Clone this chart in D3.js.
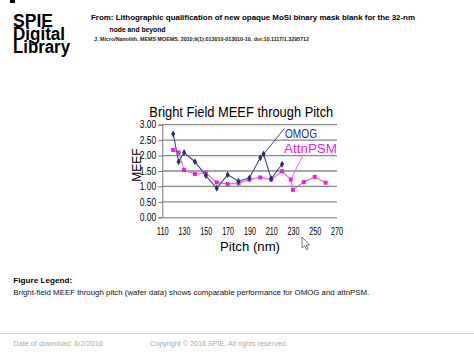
<!DOCTYPE html>
<html><head><meta charset="utf-8">
<script src="https://cdnjs.cloudflare.com/ajax/libs/d3/7.8.5/d3.min.js"></script>
<style>body{margin:0;background:#fff}svg{display:block;font-family:"Liberation Sans",Arial,sans-serif}</style>
</head><body>
<script>
// ---- data ----
const pitchOMOG = [120,125,130,140,150,160,170,180,190,200,203,210,220];
const meefOMOG  = [2.70,1.80,2.10,1.80,1.35,0.94,1.38,1.17,1.27,1.93,2.05,1.25,1.72];
const pitchAttn = [120,125,130,140,150,160,170,180,190,200,210,220,228,230,240,250,260];
const meefAttn  = [2.18,2.10,1.53,1.40,1.44,1.13,1.08,1.10,1.22,1.29,1.22,1.49,1.22,0.89,1.14,1.31,1.12];
const xTicks = [110,130,150,170,190,210,230,250,270];
const yTicks = [0,0.5,1,1.5,2,2.5,3];
const seriesNames = ["OMOG","AttnPSM"];

const W=474,H=355;
const svg=d3.select("body").append("svg").attr("width",W).attr("height",H);

function txt(x,y,s,o){
  const t=svg.append("text").attr("x",x).attr("y",y).text(s)
    .attr("font-size",o.size).attr("fill",o.fill||"#000");
  if(o.bold) t.attr("font-weight","bold");
  if(o.anchor) t.attr("text-anchor",o.anchor);
  if(o.len) t.attr("textLength",o.len).attr("lengthAdjust","spacingAndGlyphs");
  return t;
}

// ---- header ----
svg.append("rect").attr("x",10).attr("y",0).attr("width",5).attr("height",3).attr("fill","#000");
txt(13,26.5,"SPIE",{size:18,bold:true,len:40});
txt(13,39.6,"Digital",{size:18,bold:true,len:52});
txt(13,52.6,"Library",{size:18,bold:true,len:57});
txt(91,19.5,"From: Lithographic qualification of new opaque MoSi binary mask blank for the 32-nm",{size:8,bold:true,len:324});
txt(109.5,31.8,"node and beyond",{size:8,bold:true,len:56});
txt(94,40.5,"J. Micro/Nanolith. MEMS MOEMS. 2010;9(1):013010-013010-10. doi:10.1117/1.3295712",{size:5,bold:true,len:215,fill:"#222"});

// ---- chart ----
const x=d3.scaleLinear().domain([110,270]).range([162.3,336.5]);
const y=d3.scaleLinear().domain([0,3]).range([217.3,124.7]);

// gridlines
svg.append("g").selectAll("line").data(yTicks.filter(d=>d>0)).join("line")
  .attr("x1",x(110)).attr("x2",x(270)+0.5).attr("y1",d=>y(d)).attr("y2",d=>y(d))
  .attr("stroke","#8a8a8a").attr("stroke-width",1.3);

// y axis
const ya=svg.append("g").attr("transform",`translate(${x(110)},0)`)
  .call(d3.axisLeft(y).tickValues(yTicks).tickFormat(d3.format(".2f")).tickSize(4).tickPadding(2));
ya.select(".domain").attr("stroke","#777");
ya.selectAll(".tick line").attr("stroke","#777");
ya.selectAll(".tick text").attr("font-size",10).attr("fill","#000")
  .attr("font-family","Liberation Sans, Arial, sans-serif")
  .attr("textLength",16.5).attr("lengthAdjust","spacingAndGlyphs");

// x axis
const xa=svg.append("g").attr("transform",`translate(0,${y(0)})`)
  .call(d3.axisBottom(x).tickValues(xTicks).tickFormat(d3.format("d")).tickSize(0).tickPadding(11));
xa.select(".domain").attr("stroke","#777");
xa.selectAll(".tick text").attr("font-size",10).attr("fill","#000")
  .attr("font-family","Liberation Sans, Arial, sans-serif")
  .attr("textLength",12).attr("lengthAdjust","spacingAndGlyphs");

// titles
txt(149.3,116.7,"Bright Field MEEF through Pitch",{size:14,len:184});
txt(250,250.5,"Pitch (nm)",{size:13.5,anchor:"middle",len:60});
svg.append("text").attr("transform","translate(140.7,165) rotate(-90)")
  .attr("text-anchor","middle").attr("font-size",13).text("MEEF")
  .attr("textLength",33.5).attr("lengthAdjust","spacingAndGlyphs");

const navy="#24306e", navyLine="#3a4884", mag="#dc28dc", magLine="#e466e4";
const omog=pitchOMOG.map((p,i)=>[p,meefOMOG[i]]);
const attn=pitchAttn.map((p,i)=>[p,meefAttn[i]]);
const line=d3.line().x(d=>x(d[0])).y(d=>y(d[1]));

// leader lines for labels
const oi=pitchOMOG.indexOf(203), ai=pitchAttn.indexOf(228);
svg.append("line").attr("x1",x(pitchOMOG[oi])).attr("y1",y(meefOMOG[oi]))
  .attr("x2",284.5).attr("y2",128.5).attr("stroke",navyLine).attr("stroke-width",1);
svg.append("line").attr("x1",x(pitchAttn[ai])).attr("y1",y(meefAttn[ai]))
  .attr("x2",303).attr("y2",155).attr("stroke",magLine).attr("stroke-width",1);

svg.append("path").datum(attn).attr("d",line).attr("fill","none").attr("stroke",magLine).attr("stroke-width",1.2);
svg.append("path").datum(omog).attr("d",line).attr("fill","none").attr("stroke",navyLine).attr("stroke-width",1.1);

svg.append("g").selectAll("rect").data(attn).join("rect")
  .attr("x",d=>x(d[0])-2).attr("y",d=>y(d[1])-2).attr("width",4).attr("height",4).attr("fill",mag);
svg.append("g").selectAll("path").data(omog).join("path")
  .attr("d",d3.symbol(d3.symbolDiamond,14)).attr("transform",d=>`translate(${x(d[0])},${y(d[1])})`)
  .attr("fill",navy);

txt(285,138.3,seriesNames[0],{size:13,fill:navy,len:32});
txt(284,152.5,seriesNames[1],{size:13,fill:mag,len:53});

// cursor
svg.append("path").attr("d","M302,237 L302,248 L304.6,245.6 L306.4,249.6 L308,248.9 L306.3,245 L309.6,245 Z")
  .attr("fill","#fff").attr("stroke","#555").attr("stroke-width",0.8);

// ---- footer ----
txt(13.3,282.5,"Figure Legend:",{size:8,bold:true,len:59});
txt(13.3,295.3,"Bright-field MEEF through pitch (wafer data) shows comparable performance for OMOG and attnPSM.",{size:8,len:356,fill:"#111"});
svg.append("line").attr("x1",0).attr("x2",W).attr("y1",333.5).attr("y2",333.5).attr("stroke","#d0d0d0").attr("stroke-width",1);
txt(13.3,346,"Date of download:  6/2/2016",{size:7.5,fill:"#aaa",len:89.5});
txt(150,346,"Copyright © 2016 SPIE. All rights reserved.",{size:7.5,fill:"#aaa",len:137.5});
</script>
</body></html>
